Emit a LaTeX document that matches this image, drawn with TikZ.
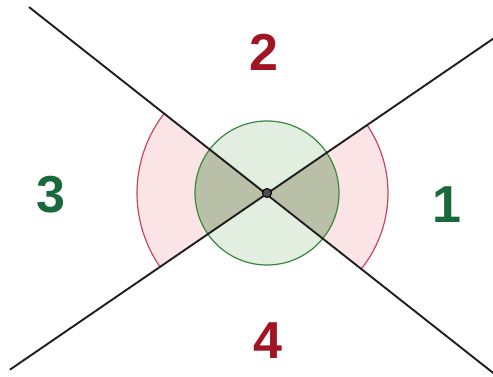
\documentclass[tikz,border=0pt]{standalone}
\usepackage{fontspec}
\setmainfont{Liberation Sans}
\usetikzlibrary{calc}
\definecolor{lblred}{RGB}{160,20,35}
\definecolor{lblgreen}{RGB}{25,105,60}
\definecolor{sectpink}{RGB}{251,228,230}
\definecolor{arcred}{RGB}{200,70,95}
\definecolor{circfill}{RGB}{226,238,224}
\definecolor{circline}{RGB}{55,135,65}
\definecolor{overlap}{RGB}{186,192,168}
\definecolor{linecol}{RGB}{30,30,30}
\begin{document}
\begin{tikzpicture}[x=1pt,y=1pt,
  mainline/.style={draw=linecol,line width=1.9pt},
  arcline/.style={draw=arcred,line width=1.2pt},
  digit/.style={font=\fontsize{52}{52}\selectfont\bfseries,inner sep=0pt,anchor=base}]
\useasboundingbox[fill=white] (0,0) rectangle (493,376);
\coordinate (C) at (267,183);
% line end points
\coordinate (A1) at ($(C)+(142:302)$);
\coordinate (A2) at ($(C)+(-38.5:292)$);
\coordinate (B1) at ($(C)+(214.5:312)$);
\coordinate (B2) at ($(C)+(34.3:274)$);
% pink sectors
\fill[sectpink] (C) -- ($(C)+(-38.5:121)$) arc[start angle=-38.5,end angle=34.3,radius=121] -- cycle;
\fill[sectpink] (C) -- ($(C)+(142:130)$) arc[start angle=142,end angle=214.5,radius=130] -- cycle;
\draw[arcline] ($(C)+(-38.5:121)$) arc[start angle=-38.5,end angle=34.3,radius=121];
\draw[arcline] ($(C)+(142:130)$) arc[start angle=142,end angle=214.5,radius=130];
% green circle
\fill[circfill] (C) circle[radius=72];
\fill[overlap] (C) -- ($(C)+(-38.5:72)$) arc[start angle=-38.5,end angle=34.3,radius=72] -- cycle;
\fill[overlap] (C) -- ($(C)+(142:72)$) arc[start angle=142,end angle=214.5,radius=72] -- cycle;
\draw[draw=circline,line width=1.2pt] (C) circle[radius=72];
% lines
\draw[mainline] (A1) -- (A2);
\draw[mainline] (B1) -- (B2);
\filldraw[fill=black!70,draw=black,line width=1pt] (C) circle[radius=4.5];
% labels
\node[digit,text=lblred] (n2) at (264,306) {2};
\node[digit,text=lblgreen] (n1) at (447,154) {1};
\node[digit,text=lblgreen] (n3) at (51,164) {3};
\node[digit,text=lblred] (n4) at (268,18) {4};
\end{tikzpicture}
\end{document}
